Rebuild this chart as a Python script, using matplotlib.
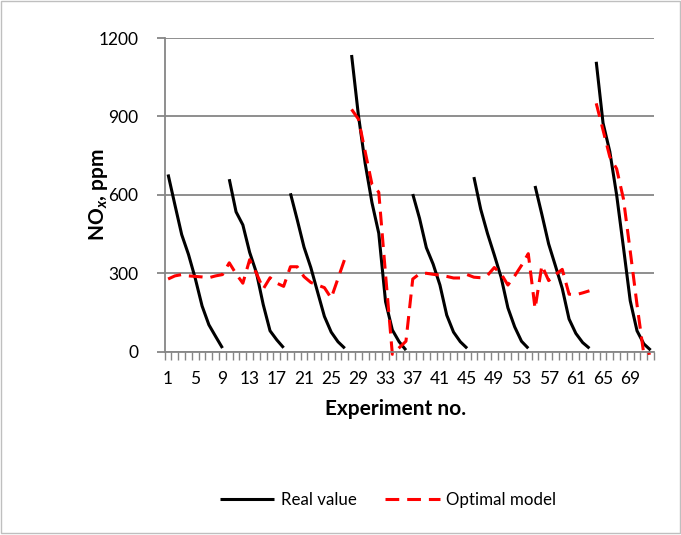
import numpy as np
import matplotlib.pyplot as plt
from matplotlib.patches import Rectangle

plt.rcParams['font.family'] = ['Lato', 'DejaVu Sans']
plt.rcParams['mathtext.fontset'] = 'custom'
plt.rcParams['mathtext.rm'] = 'Lato:bold'
plt.rcParams['mathtext.it'] = 'Lato:italic:bold'
plt.rcParams['mathtext.bf'] = 'Lato:bold'

# 72 experiments, 8 runs of 9 experiments each
experiments = np.arange(1, 73)
run_size = 9

real_value = [
    678, 562, 448, 372, 280, 175, 103, 58, 14,
    660, 535, 485, 380, 302, 180, 80, 45, 15,
    606, 505, 400, 322, 228, 135, 75, 38, 13,
    1135, 905, 720, 570, 453, 191, 83, 38, 6,
    603, 510, 398, 335, 255, 140, 75, 38, 13,
    668, 545, 452, 370, 285, 168, 95, 40, 13,
    634, 525, 412, 328, 242, 125, 70, 35, 13,
    1109, 875, 765, 600, 400, 195, 80, 30, 6,
]

optimal_model = [
    278, 290, 295, 290, 288, 286, 283, 290, 295,
    340, 298, 262, 352, 300, 240, 283, 262, 250,
    325, 325, 287, 265, 255, 245, 205, 280, 355,
    927, 890, 765, 640, 610, 295, -10, 15, 40,
    278, 298, 300, 296, 293, 288, 282, 282, 295,
    285, 283, 292, 322, 298, 255, 290, 330, 375,
    165, 330, 272, 295, 315, 220, 218, 225, 233,
    950, 848, 745, 700, 585, 385, 180, -10, -5,
]
# model line is not joined after these experiments
model_breaks = [27, 63]

x_tick_labels = [str(i) for i in range(1, 70, 4)]
y_ticks = [0, 300, 600, 900, 1200]

gray = '#868686'

fig = plt.figure(figsize=(6.81, 5.35), dpi=100)
W, H = 681, 535
ax = fig.add_axes([164.7 / W, 1 - 351.7 / H, (654 - 164.7) / W, (351.7 - 38) / H])

real = np.array(real_value, dtype=float)
model = np.array(optimal_model, dtype=float)

# measured values: one line per run
for g in range(len(real) // run_size):
    s = slice(g * run_size, (g + 1) * run_size)
    ax.plot(experiments[s], real[s], color='black', lw=2.2,
            solid_capstyle='butt', label='Real value' if g == 0 else None)

# model values
edges = [0] + [b for b in model_breaks] + [len(model)]
for k in range(len(edges) - 1):
    s = slice(edges[k], edges[k + 1])
    ax.plot(experiments[s], model[s], color='red', lw=2.2, linestyle=(0, (4.5, 2.6)),
            dash_capstyle='butt', clip_on=False, label='Optimal model' if k == 0 else None)

ax.set_xlim(0.5, 72.5)
ax.set_ylim(0, 1200)
ax.set_yticks(y_ticks)
ax.set_xticks(range(1, 70, 4))
ax.set_xticklabels(x_tick_labels)
ax.set_xticks(np.arange(0.5, 73, 1), minor=True)

ax.grid(axis='y', color=gray, lw=1.3)
ax.set_axisbelow(True)
for sp in ['top', 'right']:
    ax.spines[sp].set_visible(False)
for sp in ['left', 'bottom']:
    ax.spines[sp].set_color(gray)
    ax.spines[sp].set_linewidth(1.3)

ax.tick_params(axis='x', which='major', length=0, pad=14, labelsize=12.5)
ax.tick_params(axis='x', which='minor', length=5.5, width=1.0, color=gray, direction='out')
ax.tick_params(axis='y', length=6, width=1.3, color=gray, pad=13, labelsize=12.5)

fig.text(396 / W, 1 - 409 / H, 'Experiment no.', ha='center', va='center',
         fontsize=15, fontweight='bold')
fig.text(99 / W, 1 - 195 / H, 'NO$_x$, ppm', ha='center', va='center',
         rotation=90, fontsize=15, fontweight='bold')

fig.legend(loc='center', bbox_to_anchor=(388 / W, 1 - 500 / H), ncol=2, frameon=False,
           fontsize=12.2, handlelength=3.2, columnspacing=1.7, handletextpad=0.4)

fig.add_artist(Rectangle((0.5 / W, 2 / H), 679 / W, (H - 2.5) / H, transform=fig.transFigure,
                         fill=False, ec='#bfbfbf', lw=1))

fig.savefig('out.png', dpi=100)
